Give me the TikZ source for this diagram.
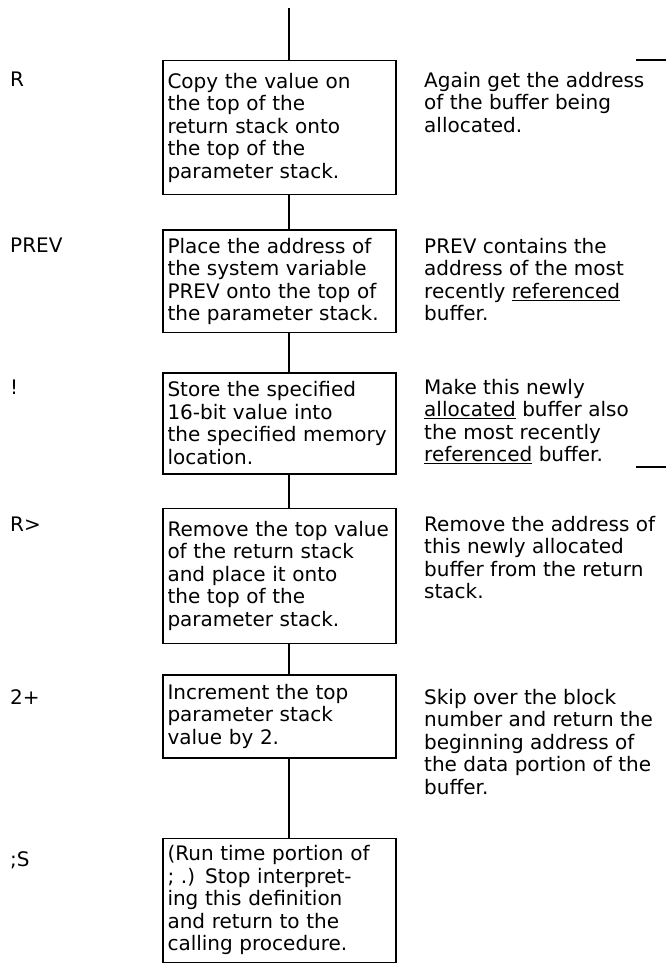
\documentclass[tikz,border=0pt]{standalone}
\usepackage{fontspec}
\setmainfont{DejaVu Sans}
\usetikzlibrary{positioning}

\begin{document}
\begin{tikzpicture}[
  x=1pt, y=-1pt,
  font=\fontsize{20}{22.5}\selectfont,
  stepbox/.style={draw, line width=1.5pt, text width=224pt, align=left, inner xsep=4.5pt, inner ysep=0pt},
  word/.style={anchor=base west, inner sep=0pt},
  note/.style={anchor=north west, align=left, inner sep=0pt},
  link/.style={line width=1.5pt}
]
\useasboundingbox (0,0) rectangle (666,973);
\coordinate (top) at (289,8);
% the chain of steps
\node[stepbox, minimum height=134pt, anchor=north] (r) at (279.5,60) {Copy the value on\\the top of the\\return stack onto\\the top of the\\parameter stack.};
\node[stepbox, minimum height=102pt, below=34pt of r] (prev) {Place the address of\\the system variable\\PREV onto the top of\\the parameter stack.};
\node[stepbox, minimum height=101pt, below=39pt of prev] (store) {Store the specified\\16-bit value into\\the specified memory\\location.};
\node[stepbox, minimum height=135pt, below=33pt of store] (rfrom) {Remove the top value\\of the return stack\\and place it onto\\the top of the\\parameter stack.};
\node[stepbox, minimum height=83pt, below=30pt of rfrom] (twoplus) {Increment the top\\parameter stack\\value by 2.};
\node[stepbox, minimum height=124pt, below=79pt of twoplus] (semis) {(Run time portion of\\; .) Stop interpret-\\ing this definition\\and return to the\\calling procedure.};
% words on the left
\node[word] (wr) at (10,87) {R};
\node[word] (wprev) at (10,253) {PREV};
\node[word] (wstore) at (10,394) {!};
\node[word] (wrfrom) at (10,531) {R>};
\node[word] (wtwoplus) at (10,704) {2+};
\node[word] (wsemis) at (10,866) {;S};
% notes on the right, top of first line
\node[note] (nr) at (424,72) {Again get the address\\of the buffer being\\allocated.};
\node[note] (nprev) at (424,238) {PREV contains the\\address of the most\\recently \underline{referenced}\\buffer.};
\node[note] (nstore) at (424,379) {Make this newly\\\underline{allocated} buffer also\\the most recently\\\underline{referenced} buffer.};
\node[note] (nrfrom) at (424,516) {Remove the address of\\this newly allocated\\buffer from the return\\stack.};
\node[note] (ntwoplus) at (424,689) {Skip over the block\\number and return the\\beginning address of\\the data portion of the\\buffer.};
% connectors
\draw[link] (top) -- (top |- r.north);
\draw[link] (r.south -| top) -- (prev.north -| top);
\draw[link] (prev.south -| top) -- (store.north -| top);
\draw[link] (store.south -| top) -- (rfrom.north -| top);
\draw[link] (rfrom.south -| top) -- (twoplus.north -| top);
\draw[link] (twoplus.south -| top) -- (semis.north -| top);
% change bars
\coordinate (bar1) at (636,60);
\coordinate (bar2) at (636,467);
\draw[link] (bar1) -- ++(30,0);
\draw[link] (bar2) -- ++(30,0);
\end{tikzpicture}
\end{document}
